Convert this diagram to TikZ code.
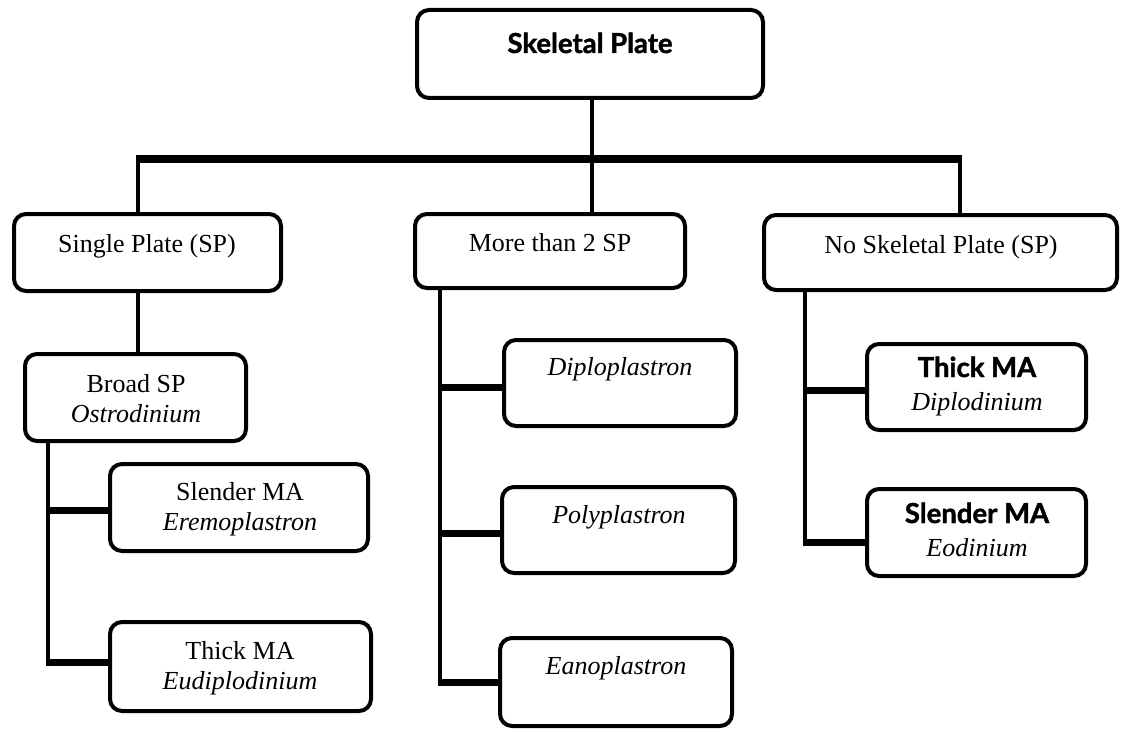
\documentclass[tikz,border=0pt]{standalone}
\usepackage{fontspec}
\setmainfont{Liberation Serif}
\newfontfamily\gillb[BoldFeatures={FakeBold=1.5}]{Lato}
\begin{document}
\begin{tikzpicture}[x=1pt,y=-1pt,
  box/.style={draw=black, line width=4pt, rounded corners=12pt, inner sep=0pt, fill=white},
  rm/.style={anchor=base, font=\fontsize{26}{30}\selectfont, inner sep=0pt},
  it/.style={anchor=base, font=\fontsize{26}{30}\selectfont\itshape, inner sep=0pt},
  bs/.style={anchor=base, font=\fontsize{27.5}{30}\selectfont\gillb\bfseries, inner sep=0pt},
  thin/.style={line width=4.5pt},
  thick/.style={line width=8pt},
  stub/.style={line width=7pt}]
\useasboundingbox (0,0) rectangle (1122,733);

% boxes
\node[box, minimum width=346pt, minimum height=88pt] (top) at (590,54) {};
\node[box, minimum width=267pt, minimum height=77pt] (sp) at (147.5,252.5) {};
\node[box, minimum width=270pt, minimum height=74pt] (more) at (550,251) {};
\node[box, minimum width=353pt, minimum height=75pt] (nosp) at (940.5,252.5) {};
\node[box, minimum width=221pt, minimum height=87pt] (broad) at (135.5,397.5) {};
\node[box, minimum width=258pt, minimum height=87pt] (slenL) at (239,507.5) {};
\node[box, minimum width=261pt, minimum height=89pt] (thickL) at (240.5,666.5) {};
\node[box, minimum width=232pt, minimum height=86pt] (dipl) at (620,383) {};
\node[box, minimum width=233pt, minimum height=86pt] (poly) at (618.5,530) {};
\node[box, minimum width=232pt, minimum height=88pt] (eano) at (616,682) {};
\node[box, minimum width=219pt, minimum height=86pt] (thickR) at (976.5,387) {};
\node[box, minimum width=219pt, minimum height=87pt] (slenR) at (976.5,532.5) {};

% texts
\node[bs] (top-t) at (590,53) {Skeletal Plate};
\node[rm] (sp-t) at (147,252) {Single Plate (SP)};
\node[rm] (more-t) at (550,251) {More than 2 SP};
\node[rm] (nosp-t) at (941,253) {No Skeletal Plate (SP)};
\node[rm] (broad-t1) at (136,392) {Broad SP};
\node[it] (broad-t2) at (136,422) {Ostrodinium};
\node[rm] (slenL-t1) at (240,500) {Slender MA};
\node[it] (slenL-t2) at (240,530) {Eremoplastron};
\node[rm] (thickL-t1) at (240,659) {Thick MA};
\node[it] (thickL-t2) at (240,689) {Eudiplodinium};
\node[it] (dipl-t) at (620,375) {Diploplastron};
\node[it] (poly-t) at (619,523) {Polyplastron};
\node[it] (eano-t) at (616,674) {Eanoplastron};
\node[bs] (thickR-t1) at (977,377) {Thick MA};
\node[it] (thickR-t2) at (977,410) {Diplodinium};
\node[bs] (slenR-t1) at (977,523) {Slender MA};
\node[it] (slenR-t2) at (977,556) {Eodinium};

% junction coordinates
\coordinate (jt) at (592,159);
\coordinate (jl) at (138,159);
\coordinate (jr) at (960,159);
\coordinate (b1) at (48,510);
\coordinate (b2) at (48,662);
\coordinate (m1) at (440,387);
\coordinate (m2) at (440,533);
\coordinate (m3) at (440,682);
\coordinate (n1) at (805,390);
\coordinate (n2) at (805,542);

% connectors
\draw[thin] (top.south -| jt) -- (jt);
\draw[thin] (jl) -- (sp.north -| jl);
\draw[thin] (jt) -- (more.north -| jt);
\draw[thin] (jr) -- (nosp.north -| jr);
\draw[thick] ([xshift=-2.25pt]jl) -- ([xshift=2.25pt]jr);
\draw[thin] (sp.south -| jl) -- (broad.north -| jl);
\draw[thin] (broad.south -| b1) -- ([yshift=3.5pt]b2);
\draw[stub] ([xshift=-2.25pt]b1) -- (b1 -| slenL.west);
\draw[stub] ([xshift=-2.25pt]b2) -- (b2 -| thickL.west);
\draw[thin] (more.south -| m1) -- ([yshift=3.5pt]m3);
\draw[stub] ([xshift=-2.25pt]m1) -- (m1 -| dipl.west);
\draw[stub] ([xshift=-2.25pt]m2) -- (m2 -| poly.west);
\draw[stub] ([xshift=-2.25pt]m3) -- (m3 -| eano.west);
\draw[thin] (nosp.south -| n1) -- ([yshift=3.5pt]n2);
\draw[stub] ([xshift=-2.25pt]n1) -- (n1 -| thickR.west);
\draw[stub] ([xshift=-2.25pt]n2) -- (n2 -| slenR.west);
\end{tikzpicture}
\end{document}
